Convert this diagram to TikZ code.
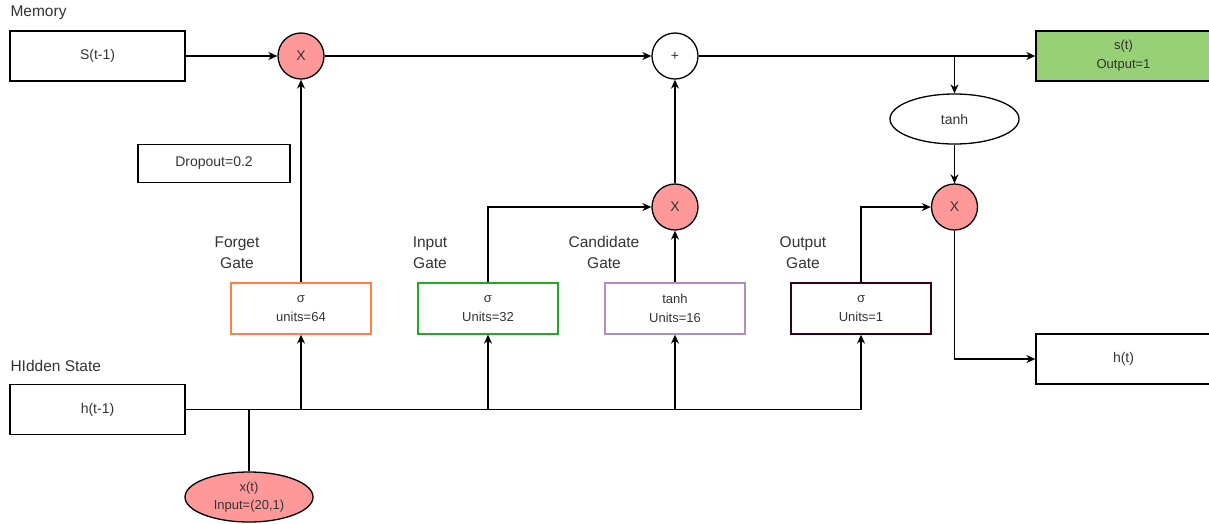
\documentclass[tikz,border=0pt]{standalone}
\usepackage{fontspec}
\setmainfont{Liberation Sans}
\usetikzlibrary{arrows.meta,shapes.geometric}
\definecolor{opred}{HTML}{FF9999}
\definecolor{outgreen}{HTML}{97D077}
\definecolor{forgetc}{HTML}{FF8040}
\definecolor{inputc}{HTML}{22AA22}
\definecolor{candc}{HTML}{B08CC8}
\definecolor{outc}{HTML}{33001A}
\definecolor{txt}{HTML}{333333}
\begin{document}
\begin{tikzpicture}[x=1pt,y=-1pt,
  font=\fontsize{14}{21}\selectfont,
  every node/.style={text=txt},
  box/.style={draw=black, line width=1.3pt, minimum width=175pt, minimum height=50pt, inner sep=0pt, align=center},
  gatebox/.style={line width=1.3pt, minimum width=140pt, minimum height=51pt, inner sep=0pt, align=center, font=\fontsize{13}{19}\selectfont},
  op/.style={circle, draw=black, line width=1.3pt, fill=opred, minimum size=46pt, inner sep=0pt},
  lbl/.style={align=center, font=\fontsize{15.5}{21}\selectfont},
  arr/.style={-{Stealth[length=9pt,width=8pt]}, line width=1.3pt},
  ln/.style={line width=1.3pt}]
\clip (0,0) rectangle (1209,523);
\useasboundingbox (0,0) rectangle (1209,523);

\node[lbl, anchor=west] (lm) at (7,13) {Memory};
\node[lbl, anchor=west] (lh) at (7,366) {HIdden State};

\node[box] (s0) at (97.5,56) {S(t-1)};
\node[op] (m1) at (301,56) {X};
\node[op, fill=white] (plus) at (675,56) {+};
\node[box, fill=outgreen, font=\fontsize{13}{19}\selectfont] (st) at (1123.5,56) {s(t)\\Output=1};
\node[ellipse, draw=black, line width=1.3pt, minimum width=129pt, minimum height=50pt, inner sep=0pt] (th) at (954.5,119) {tanh};
\node[op] (m3) at (954.5,207) {X};
\node[op] (m2) at (675,207) {X};
\node[draw=black, line width=1.3pt, minimum width=152pt, minimum height=38pt, inner sep=0pt] (drop) at (214,163.5) {Dropout=0.2};

\node[lbl] (lf) at (237,252.5) {Forget\\Gate};
\node[lbl] (li) at (430,252.5) {Input\\Gate};
\node[lbl] (lc) at (604,252.5) {Candidate\\Gate};
\node[lbl] (lo) at (803,252.5) {Output\\Gate};

\node[gatebox, draw=forgetc] (gf) at (301,308.5) {σ\\units=64};
\node[gatebox, draw=inputc] (gi) at (488,308.5) {σ\\Units=32};
\node[gatebox, draw=candc] (gc) at (675,308.5) {tanh\\Units=16};
\node[gatebox, draw=outc] (go) at (861,308.5) {σ\\Units=1};

\node[box] (h0) at (97.5,409.5) {h(t-1)};
\node[box] (ht) at (1123.5,359) {h(t)};
\node[ellipse, draw=black, line width=1.3pt, fill=opred, minimum width=128pt, minimum height=50pt, inner sep=0pt, align=center, font=\fontsize{13}{18}\selectfont] (xt) at (249,497) {x(t)\\Input=(20,1)};

% memory line
\draw[arr] (s0) -- (m1);
\draw[arr] (m1) -- (plus);
\draw[arr] (plus) -- (st);
\coordinate (br) at (954.5,56);
\draw[arr] (br) -- (th);
\draw[arr] (th) -- (m3);
\draw[arr] (m3) |- (ht);

% gates up
\draw[arr] (gf) -- (m1);
\draw[arr] (gi.north) |- (m2);
\draw[arr] (gc) -- (m2);
\draw[arr] (m2) -- (plus);
\draw[arr] (go.north) |- (m3);

% hidden line
\coordinate (hend) at (go.south |- h0.east);
\draw[ln] (h0.east) -- (hend);
\draw[ln] (xt) -- (xt |- h0.east);
\draw[arr] (gf.south |- h0.east) -- (gf.south);
\draw[arr] (gi.south |- h0.east) -- (gi.south);
\draw[arr] (gc.south |- h0.east) -- (gc.south);
\draw[arr] (hend) -- (go.south);
\end{tikzpicture}
\end{document}
